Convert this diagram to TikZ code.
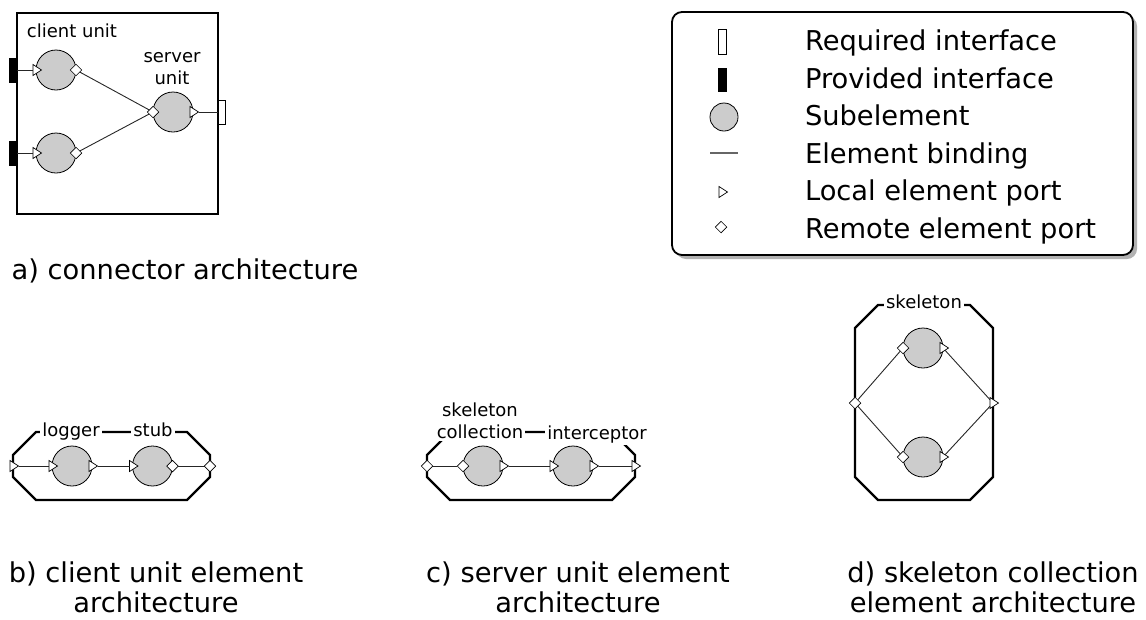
\documentclass[tikz,border=0pt]{standalone}
\usepackage{fontspec}
\setmainfont{DejaVu Sans}
\usetikzlibrary{shapes.geometric,shadows,calc}

\begin{document}
\begin{tikzpicture}[x=1pt,y=-1pt]
\def\subcol{gray!40}
\def\linecol{black}

\tikzset{every node/.style={inner sep=0pt, outer sep=0pt}}
\tikzset{sub/.style={circle, draw=\linecol, fill=\subcol, line width=.8pt, minimum size=40pt}}
\tikzset{lport/.style={isosceles triangle, isosceles triangle stretches, draw=\linecol, fill=white, line width=.7pt, minimum width=11pt, minimum height=8.5pt}}
\tikzset{rport/.style={diamond, draw=\linecol, fill=white, line width=.7pt, minimum size=11.5pt}}
\tikzset{provif/.style={rectangle, fill=black, minimum width=8pt, minimum height=25pt}}
\tikzset{reqif/.style={rectangle, draw=black, fill=white, line width=.8pt, minimum width=7pt, minimum height=24pt}}
\tikzset{bind/.style={draw=black!85, line width=.9pt}}
\tikzset{outline/.style={draw=black, line width=2.3pt}}
\tikzset{lbl/.style={font=\fontsize{18}{22}\selectfont, align=center}}
\tikzset{captext/.style={font=\fontsize{27.3}{30}\selectfont, align=center}}
\useasboundingbox (0,0) rectangle (1146,619);

%%%%%%% a) connector
\node(conn)at(117.5,113.5)[draw,line width=2pt,minimum width=201pt,minimum height=201pt]{};
\node(cl1)at(56,70)[sub]{};
\node(cl2)at(56,153)[sub]{};
\node(srv)at(173,112)[sub]{};
\node(pif1)at($(conn.west |- cl1)+(-4,0)$)[provif]{};
\node(pif2)at($(conn.west |- cl2)+(-4,0)$)[provif]{};
\node(rif)at($(conn.east |- srv)+(3.5,0)$)[reqif]{};
\node(cl1in)at(cl1.west)[lport]{};
\node(cl1out)at(cl1.east)[rport]{};
\node(cl2in)at(cl2.west)[lport]{};
\node(cl2out)at(cl2.east)[rport]{};
\node(srvin)at(srv.west)[rport]{};
\node(srvout)at(srv.east)[lport]{};
\node(cllbl)at(72,37)[lbl,anchor=base]{client unit};
\node(srvlbl)at(172,69)[lbl]{server\\unit};
\path (pif1) edge[bind] (cl1in) (pif2) edge[bind] (cl2in);
\path (cl1out) edge[bind] (srvin) (cl2out) edge[bind] (srvin);
\path (srvout) edge[bind] (rif);
\node(capa)at(185,279)[captext,anchor=base]{a) connector architecture};

%%%%%%% legend
\node(legend)at(902.5,133.5)[draw,fill=white,line width=1.8pt,rounded corners=10pt,minimum width=461pt,minimum height=243pt,
  drop shadow={shadow xshift=4pt,shadow yshift=-4pt,fill=black,opacity=.3}]{};
\node(lgreq)at(722,42)[reqif,minimum width=8pt,minimum height=25pt]{};
\node(lgprov)at(722,80)[provif,minimum width=9pt,minimum height=24pt]{};
\node(lgsub)at(724,117)[sub,minimum size=28pt]{};
\coordinate(lgb1)at(710,153);
\coordinate(lgb2)at(738,153);
\draw[bind,draw=black!60,line width=1.1pt] (lgb1) -- (lgb2);
\node(lgloc)at(722,192)[lport]{};
\node(lgrem)at(721,227)[rport]{};
\foreach \t/\y in {Required interface/50, Provided interface/88, Subelement/125, Element binding/163, Local element port/200, Remote element port/238}
  \node at(805,\y)[anchor=base west,font=\fontsize{27.3}{30}\selectfont]{\t};

%%%%%%% b) client unit
\draw[outline] (13,455) -- (36,432) -- (187,432) -- (210,455) -- (210,477) -- (187,500) -- (36,500) -- (13,477) -- cycle;
\node(logger)at(72,466)[sub]{};
\node(stub)at(152.5,466)[sub]{};
\node(lglbl)at(71,436)[lbl,anchor=base,fill=white,inner sep=2pt]{logger};
\node(stlbl)at(153,436)[lbl,anchor=base,fill=white,inner sep=2pt]{stub};
\node(bin)at(13,466)[lport]{};
\node(lgin)at(logger.west)[lport]{};
\node(lgout)at(logger.east)[lport]{};
\node(stin)at(stub.west)[lport]{};
\node(stout)at(stub.east)[rport]{};
\node(bout)at(210,466)[rport]{};
\path (bin) edge[bind] (lgin) (lgout) edge[bind] (stin) (stout) edge[bind] (bout);
\node(capb)at(156,587)[captext]{b) client unit element\\architecture};

%%%%%%% c) server unit
\draw[outline] (427,455) -- (450,432) -- (612,432) -- (635,455) -- (635,477) -- (612,500) -- (450,500) -- (427,477) -- cycle;
\node(skc)at(483,466)[sub]{};
\node(icp)at(573,466)[sub]{};
\node(sklbl)at(480,421)[lbl,fill=white,inner sep=2pt]{skeleton\\collection};
\node(iclbl)at(597,439)[lbl,anchor=base,fill=white,inner sep=2pt]{interceptor};
\node(cin)at(427,466)[rport]{};
\node(skin)at(skc.west)[rport]{};
\node(skout)at(skc.east)[lport]{};
\node(icin)at(icp.west)[lport]{};
\node(icout)at(icp.east)[lport]{};
\node(cout)at(635,466)[lport]{};
\path (cin) edge[bind] (skin) (skout) edge[bind] (icin) (icout) edge[bind] (cout);
\node(capc)at(578,587)[captext]{c) server unit element\\architecture};

%%%%%%% d) skeleton collection
\draw[outline] (855,328) -- (878,305) -- (970,305) -- (993,328) -- (993,477) -- (970,500) -- (878,500) -- (855,477) -- cycle;
\node(sk1)at(923,348)[sub]{};
\node(sk2)at(923,457)[sub]{};
\node(sklbl2)at(924,308)[lbl,anchor=base,fill=white,inner sep=2pt]{skeleton};
\node(din)at(855,403)[rport]{};
\node(dout)at(993,403)[lport]{};
\node(sk1in)at(sk1.west)[rport]{};
\node(sk1out)at(sk1.east)[lport]{};
\node(sk2in)at(sk2.west)[rport]{};
\node(sk2out)at(sk2.east)[lport]{};
\path (din) edge[bind] (sk1in) (din) edge[bind] (sk2in);
\path (sk1out) edge[bind] (dout) (sk2out) edge[bind] (dout);
\node(capd)at(993,587)[captext]{d) skeleton collection\\element architecture};
\end{tikzpicture}
\end{document}
